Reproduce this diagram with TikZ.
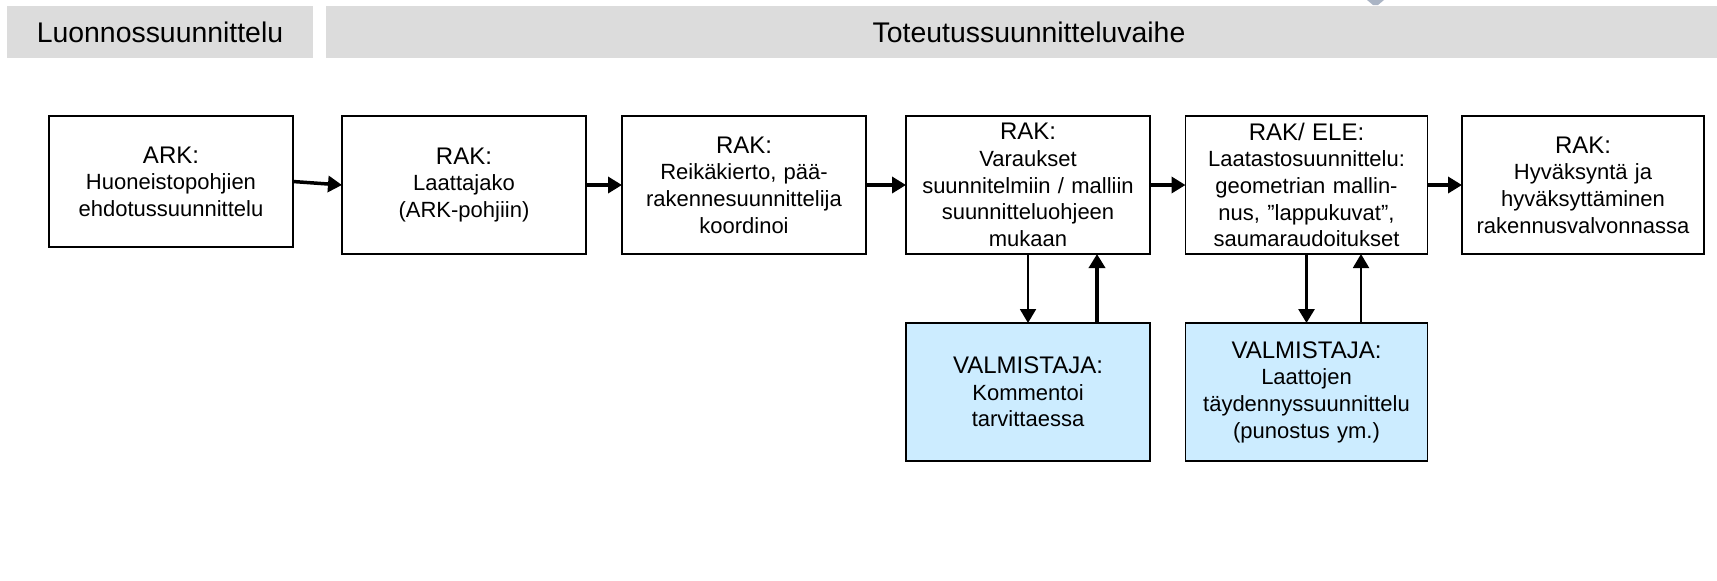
\documentclass[tikz,border=0pt]{standalone}
\usepackage{fontspec}
\setmainfont{Liberation Sans}
\usetikzlibrary{arrows.meta,calc}
\definecolor{hdrgray}{RGB}{220,220,220}
\definecolor{valblue}{RGB}{204,236,255}
\definecolor{tipgray}{RGB}{170,180,196}
\newcommand\boxhead[1]{{\fontsize{12}{13.3}\selectfont #1}}
\begin{document}
\begin{tikzpicture}[x=0.5pt,y=-0.5pt,
  hdrbar/.style={fill=hdrgray,inner sep=0pt,outer sep=0pt,minimum height=26pt,font=\fontsize{14.2}{17}\selectfont},
  box/.style={draw=black,line width=0.85pt,fill=white,inner sep=0pt,outer sep=0pt,align=center,text width=122pt,minimum height=69pt,font=\fontsize{11}{13.3}\selectfont},
  valbox/.style={box,fill=valblue},
  thickarrow/.style={line width=1.75pt,-{Triangle[length=7pt,width=8pt]}},
  thinarrow/.style={line width=1pt,-{Triangle[length=7pt,width=8pt]}},
  midarrow/.style={line width=1.4pt,-{Triangle[length=7pt,width=8pt]}}
]
\useasboundingbox (0,0) rectangle (1717,580);
\fill[white] (0,0) rectangle (1717,580);
% small cut-off mark at the top
\fill[tipgray] (1367,0) -- (1384,0) -- (1378,5) -- (1373,5) -- cycle;
% header bars
\node[hdrbar,minimum width=153pt] (h1) at (160,32) {Luonnossuunnittelu};
\node[hdrbar,minimum width=703pt] (h2) at (1029,32) {Toteutussuunnitteluvaihe};
% main row
\node[box,minimum height=65.5pt] (b1) at (171,181.5) {\boxhead{ARK:}\\Huoneistopohjien\\ehdotussuunnittelu};
\node[box] (b2) at (464,185) {\boxhead{RAK:}\\Laattajako\\(ARK-pohjiin)};
\node[box] (b3) at (744,185) {\boxhead{RAK:}\\Reikäkierto, pää-\\rakennesuunnittelija\\koordinoi};
\node[box] (b4) at (1028,185) {\boxhead{RAK:}\\Varaukset\\suunnitelmiin / malliin\\suunnitteluohjeen\\mukaan};
\node[box,text width=121pt] (b5) at (1306.5,185) {\boxhead{RAK/ ELE:}\\Laatastosuunnittelu:\\geometrian mallin-\\nus, ”lappukuvat”,\\saumaraudoitukset};
\node[box,text width=121pt] (b6) at (1583,185) {\boxhead{RAK:}\\Hyväksyntä ja\\hyväksyttäminen\\rakennusvalvonnassa};
% manufacturer row
\node[valbox] (v1) at (1028,392) {\boxhead{VALMISTAJA:}\\Kommentoi\\tarvittaessa};
\node[valbox,text width=121pt] (v2) at (1306.5,392) {\boxhead{VALMISTAJA:}\\Laattojen\\täydennyssuunnittelu\\(punostus ym.)};
% horizontal connectors
\draw[thickarrow] (b1.east) -- (b2.west);
\draw[thickarrow] (b2.east) -- (b3.west);
\draw[thickarrow] (b3.east) -- (b4.west);
\draw[thickarrow] (b4.east) -- (b5.west);
\draw[thickarrow] (b5.east) -- (b6.west);
% vertical connectors
\draw[thinarrow] (b4.south) -- (v1.north);
\draw[thickarrow] ($(v1.north)+(69,0)$) -- ($(b4.south)+(69,0)$);
\draw[midarrow] (b5.south) -- (v2.north);
\draw[thinarrow] ($(v2.north)+(54.5,0)$) -- ($(b5.south)+(54.5,0)$);
\end{tikzpicture}
\end{document}
